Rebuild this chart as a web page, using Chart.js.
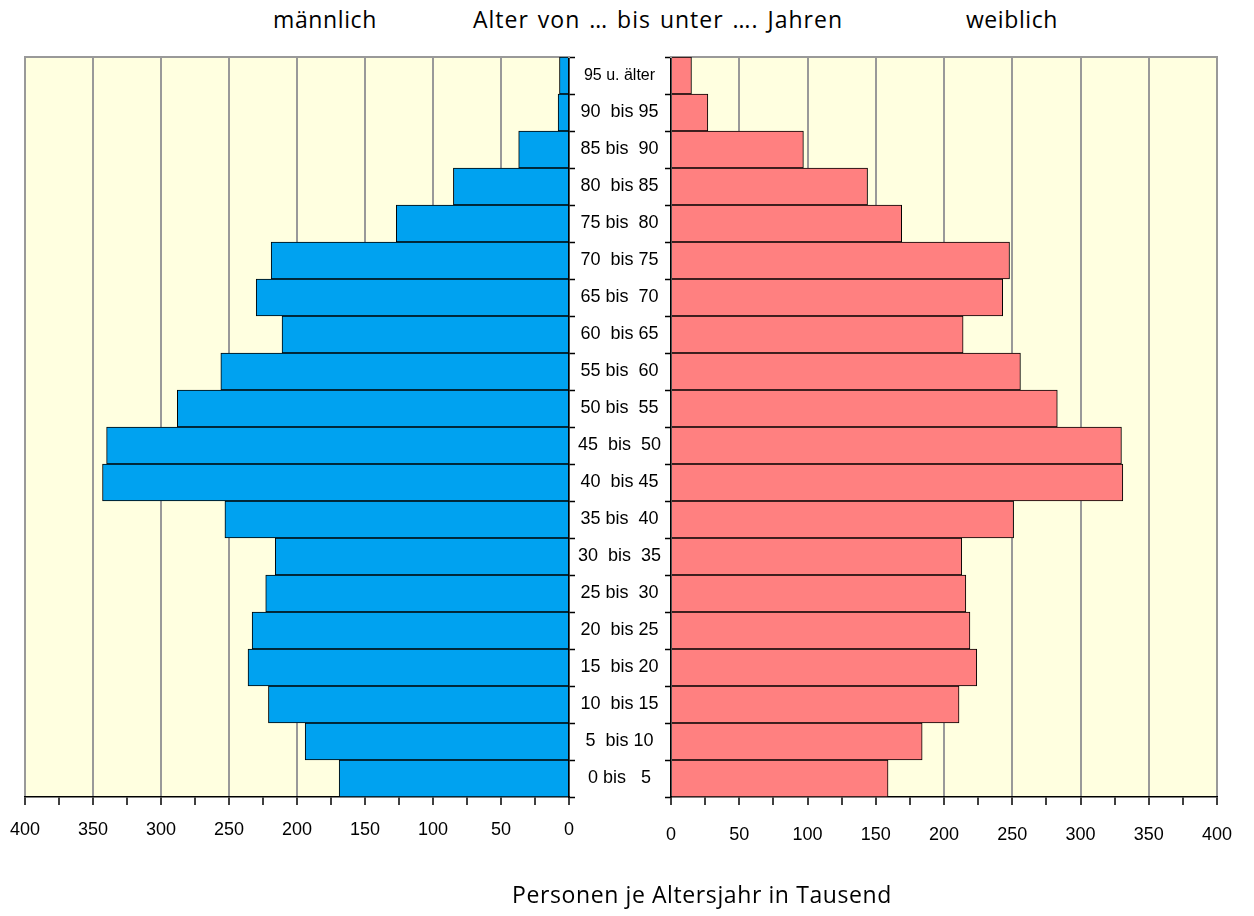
<!DOCTYPE html>
<html lang="de">
<head>
<meta charset="utf-8">
<title>Bevölkerungspyramide</title>
<script src="https://cdn.jsdelivr.net/npm/chart.js@4"></script>
<style>
    html, body { margin: 0; padding: 0; background: #fff; }
    body { width: 1254px; height: 916px; position: relative; overflow: hidden; font-family: "Open Sans", sans-serif; }
    .caption { position: absolute; font-size: 23px; line-height: 30px; letter-spacing: 0.6px; color: #000; white-space: pre; transform: translateX(-50%); }
    #maleChart { position: absolute; left: 0; top: 0; }
    #femaleChart { position: absolute; left: 569px; top: 0; }
</style>
</head>
<body>
<div class="caption" style="left:325px; top:4px;">männlich</div>
<div class="caption" style="left:658px; top:4px; letter-spacing:1px; word-spacing:2px;">Alter von … bis unter …. Jahren</div>
<div class="caption" style="left:1012px; top:4px;">weiblich</div>
<canvas id="maleChart" width="575" height="916"></canvas>
<canvas id="femaleChart" width="685" height="916"></canvas>
<div class="caption" style="left:702px; top:879px;">Personen je Altersjahr in Tausend</div>
<script>
const ageGroups = [
    '95 u. älter', '90  bis 95', '85 bis  90', '80  bis 85', '75 bis  80',
    '70  bis 75', '65 bis  70', '60  bis 65', '55 bis  60', '50 bis  55',
    '45  bis  50', '40  bis 45', '35 bis  40', '30  bis  35', '25 bis  30',
    '20  bis 25', '15  bis 20', '10  bis 15', '5  bis 10', '0 bis   5'
];
// thousands, top (oldest) to bottom (youngest)
const maleValues = [7, 8, 37, 85, 127, 219, 230, 211, 256, 288, 340, 343, 253, 216, 223, 233, 236, 221, 194, 169];
const femaleValues = [15, 27, 97, 144, 169, 248, 243, 214, 256, 283, 330, 331, 251, 213, 216, 219, 224, 211, 184, 159];
const xTickLabels = ['0', '50', '100', '150', '200', '250', '300', '350', '400'];

const labelFont = '"Liberation Sans", Arial, sans-serif';

// yellow plot background and grey top frame line
const plotFrame = {
    id: 'plotFrame',
    beforeDraw(chart) {
        const { ctx, chartArea: a } = chart;
        ctx.save();
        ctx.fillStyle = '#ffffe0';
        ctx.fillRect(a.left, a.top, a.right - a.left, a.bottom - a.top);
        ctx.restore();
    },
    beforeDatasetsDraw(chart) {
        const { ctx, chartArea: a } = chart;
        ctx.save();
        ctx.strokeStyle = '#999999';
        ctx.lineWidth = 2;
        ctx.beginPath();
        ctx.moveTo(a.left - 1, a.top);
        ctx.lineTo(a.right + 1, a.top);
        ctx.stroke();
        ctx.restore();
    }
};

const xAxis = (reverse, labelPadding) => ({
    type: 'linear',
    min: 0,
    max: 400,
    reverse: reverse,
    afterFit: (scale) => {
        scale.height = 119;
        // keep edge labels from pushing the plot area around
        scale.paddingLeft = 0;
        scale.paddingRight = 0;
    },
    ticks: {
        stepSize: 25,
        autoSkip: false,
        maxRotation: 0,
        padding: labelPadding,
        color: '#000',
        font: { family: labelFont, size: 18 },
        callback: (value) => value % 50 === 0 ? xTickLabels[value / 50] : ''
    },
    grid: {
        color: (c) => c.tick && c.tick.value % 50 === 0 ? '#999999' : 'rgba(0,0,0,0)',
        lineWidth: 2,
        tickColor: '#000',
        tickWidth: 1.5,
        tickLength: 8
    },
    border: { color: '#000', width: 1.5 }
});

const createSide = (canvasId, values, color, isLeft) => {
    const canvas = document.getElementById(canvasId);
    return new Chart(canvas, {
        type: 'bar',
        data: {
            labels: ageGroups,
            datasets: [{
                data: values,
                backgroundColor: color,
                borderColor: '#000',
                borderWidth: 1,
                barPercentage: 1,
                categoryPercentage: 1
            }]
        },
        options: {
            indexAxis: 'y',
            responsive: false,
            animation: false,
            layout: {
                padding: isLeft
                    ? { top: 57, left: 25, right: 0, bottom: 0 }
                    : { top: 57, left: 0, right: 37, bottom: 0 }
            },
            plugins: {
                legend: { display: false },
                tooltip: { enabled: false }
            },
            scales: {
                x: xAxis(isLeft, isLeft ? 14 : 19),
                y: {
                    position: isLeft ? 'right' : 'left',
                    afterFit: (scale) => { scale.width = isLeft ? 6 : 102; },
                    ticks: {
                        display: !isLeft,
                        crossAlign: 'center',
                        padding: 4,
                        color: '#000',
                        font: (c) => ({ family: labelFont, size: c.index === 0 ? 16 : 18 })
                    },
                    grid: {
                        drawOnChartArea: false,
                        tickLength: 6,
                        tickColor: '#000',
                        tickWidth: 1.5
                    },
                    border: { color: '#000', width: 1.5 }
                }
            }
        },
        plugins: [plotFrame]
    });
};

createSide('maleChart', maleValues, '#00a2f0', true);
createSide('femaleChart', femaleValues, '#ff8080', false);
</script>
</body>
</html>
